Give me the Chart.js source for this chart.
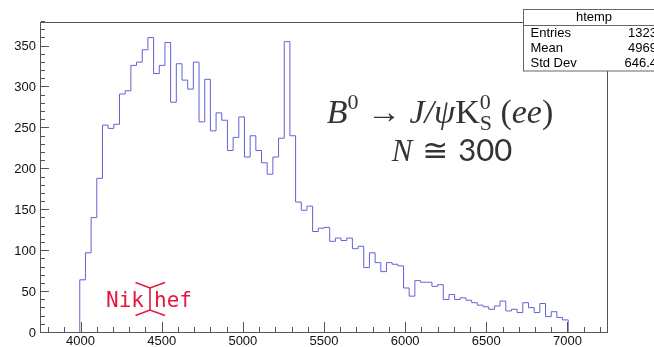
<!DOCTYPE html>
<html>
<head>
<meta charset="utf-8">
<script src="https://cdn.jsdelivr.net/npm/chart.js@4.4.0/dist/chart.umd.min.js"></script>
<style>
  html, body { margin: 0; padding: 0; background: #fff; }
  #wrap { width: 654px; height: 347px; }
</style>
</head>
<body>
<div id="wrap"><canvas id="htemp" width="654" height="347"></canvas></div>
<script>
// htemp: bins of 35 over [3750, 7250], filled from 3995 to 7005
const xMin = 3750;
const xMax = 7250;
const yMax = 380;
const binStart = 3995;
const binWidth = 35;
const counts = [
    65, 98, 141, 189, 254, 250, 255, 292, 296, 327,
    331, 346, 361, 317, 327, 355, 282, 329, 309, 298,
    331, 258, 310, 247, 269, 260, 223, 239, 264, 215,
    241, 223, 208, 194, 215, 238, 356, 241, 160, 150,
    155, 124, 128, 129, 112, 116, 113, 116, 103, 106,
    80, 98, 86, 75, 86, 84, 82, 55, 45, 64,
    62, 62, 57, 59, 41, 47, 41, 43, 40, 37,
    34, 32, 29, 33, 39, 27, 29, 25, 37, 31,
    25, 36, 20, 26, 19, 16
];
const xTicks = [4000, 4500, 5000, 5500, 6000, 6500, 7000];
const yTicks = [0, 50, 100, 150, 200, 250, 300, 350];

const statsTitle = 'htemp';
const statsNames = ['Entries', 'Mean', 'Std Dev'];
const statsValues = ['1323', '4969', '646.4'];

// outline points: step up at each bin's low edge, back to zero after the last bin
const points = [{ x: binStart, y: 0 }];
counts.forEach((c, i) => points.push({ x: binStart + i * binWidth, y: c }));
points.push({ x: binStart + counts.length * binWidth, y: 0 });

const SANS = '"Liberation Sans", Arial, sans-serif';
const SERIF = '"Liberation Serif", "DejaVu Serif", serif';

function drawRich(ctx, parts, cx, baseline) {
    let total = 0;
    parts.forEach(p => {
        ctx.font = p.font;
        p.w = ctx.measureText(p.t).width;
        if (!p.stack) total += p.w;
    });
    let x = cx - total / 2;
    parts.forEach(p => {
        ctx.font = p.font;
        ctx.fillText(p.t, x, baseline + (p.dy || 0));
        if (!p.stack) x += p.w;
    });
}

// ROOT-style frame, inward ticks, stats box and labels
const rootDecor = {
    id: 'rootDecor',
    afterDraw(chart) {
        const { ctx, chartArea: a, scales: { x, y } } = chart;
        ctx.save();

        ctx.strokeStyle = '#555';
        ctx.lineWidth = 1;
        ctx.strokeRect(a.left + 0.5, a.top + 0.5, a.right - a.left - 1, a.bottom - a.top - 1);

        ctx.beginPath();
        for (let v = Math.ceil(x.min / 100) * 100; v <= x.max; v += 100) {
            const px = Math.round(x.getPixelForValue(v)) + 0.5;
            const len = v % 500 === 0 ? 10 : 5;
            ctx.moveTo(px, a.bottom - 1);
            ctx.lineTo(px, a.bottom - 1 - len);
        }
        for (let v = 0; v <= y.max; v += 10) {
            const py = Math.round(y.getPixelForValue(v)) - 0.5;
            const len = v % 50 === 0 ? 8 : 4;
            ctx.moveTo(a.left + 1, py);
            ctx.lineTo(a.left + 1 + len, py);
        }
        ctx.stroke();

        // stats box (runs off the right edge of the canvas)
        const bx = 523.5, by = 9.5, bw = 141, bh = 61.5;
        ctx.fillStyle = '#fff';
        ctx.fillRect(bx, by, bw, bh);
        ctx.strokeStyle = '#666';
        ctx.strokeRect(bx, by, bw, bh);
        ctx.beginPath();
        ctx.moveTo(bx, by + 16);
        ctx.lineTo(bx + bw, by + 16);
        ctx.stroke();
        ctx.fillStyle = '#000';
        ctx.font = '13px ' + SANS;
        ctx.textBaseline = 'middle';
        ctx.textAlign = 'center';
        ctx.fillText(statsTitle, bx + bw / 2, by + 8);
        statsNames.forEach((n, i) => {
            const ty = by + 24 + i * 15.1;
            ctx.textAlign = 'left';
            ctx.fillText(n, bx + 7, ty);
            ctx.textAlign = 'right';
            ctx.fillText(statsValues[i], 657, ty);
        });

        // decay label
        ctx.textAlign = 'left';
        ctx.textBaseline = 'alphabetic';
        ctx.fillStyle = '#333';
        drawRich(ctx, [
            { t: 'B', font: 'italic 34px ' + SERIF },
            { t: '0', font: '22px ' + SERIF, dy: -14 },
            { t: ' \u2192 ', font: '34px ' + SERIF },
            { t: 'J/\u03C8', font: 'italic 34px ' + SERIF },
            { t: 'K', font: '34px ' + SERIF },
            { t: '0', font: '22px ' + SERIF, dy: -14, stack: true },
            { t: 'S', font: '22px ' + SERIF, dy: 7 },
            { t: ' (', font: '34px ' + SERIF },
            { t: 'ee', font: 'italic 34px ' + SERIF },
            { t: ')', font: '34px ' + SERIF }
        ], 440, 123);
        drawRich(ctx, [
            { t: 'N', font: 'italic 31px ' + SERIF },
            { t: ' \u2245 ', font: '31px "DejaVu Sans", sans-serif' },
            { t: '300', font: '31px Lato, sans-serif' }
        ], 452, 161);

        // Nikhef mark
        ctx.fillStyle = '#e2183f';
        ctx.strokeStyle = '#e2183f';
        ctx.lineWidth = 1.6;
        ctx.font = '21px "DejaVu Sans Mono", monospace';
        ctx.fillText('Nik', 106, 306.5);
        ctx.fillText('hef', 154, 306.5);
        ctx.beginPath();
        ctx.moveTo(135.5, 282.5); ctx.lineTo(150, 288); ctx.lineTo(165, 282.5);
        ctx.moveTo(150, 288); ctx.lineTo(150, 310);
        ctx.moveTo(135.5, 315.5); ctx.lineTo(150, 310); ctx.lineTo(165, 315.5);
        ctx.stroke();

        ctx.restore();
    }
};

new Chart(document.getElementById('htemp'), {
    type: 'line',
    data: {
        datasets: [{
            data: points,
            stepped: true,
            borderColor: '#6262d4',
            borderWidth: 1,
            pointRadius: 0,
            fill: false
        }]
    },
    options: {
        responsive: false,
        animation: false,
        devicePixelRatio: 1,
        layout: { padding: { top: 22, right: 46, left: 0, bottom: 0 } },
        plugins: { legend: { display: false }, tooltip: { enabled: false } },
        scales: {
            x: {
                type: 'linear',
                min: xMin,
                max: xMax,
                afterFit: s => { s.height = 14; },
                afterBuildTicks: s => { s.ticks = xTicks.map(v => ({ value: v })); },
                grid: { display: false, drawTicks: false },
                border: { display: false },
                ticks: {
                    autoSkip: false,
                    maxRotation: 0,
                    padding: 1,
                    color: '#111',
                    font: { family: SANS, size: 13 },
                    callback: v => String(v)
                }
            },
            y: {
                type: 'linear',
                min: 0,
                max: yMax,
                afterFit: s => { s.width = 40; },
                afterBuildTicks: s => { s.ticks = yTicks.map(v => ({ value: v })); },
                grid: { display: false, drawTicks: false },
                border: { display: false },
                ticks: {
                    padding: 4,
                    color: '#111',
                    font: { family: SANS, size: 13 },
                    callback: v => String(v)
                }
            }
        }
    },
    plugins: [rootDecor]
});
</script>
</body>
</html>
